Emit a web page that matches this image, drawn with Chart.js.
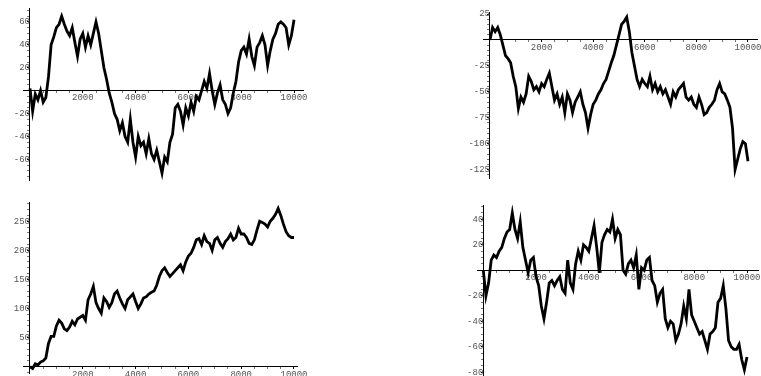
<!DOCTYPE html>
<html><head><meta charset="utf-8">
<script src="https://cdn.jsdelivr.net/npm/chart.js@4/dist/chart.umd.min.js"></script>
<style>
html,body{margin:0;padding:0;background:#fff;width:761px;height:376px;overflow:hidden}
canvas{position:absolute;left:0;top:0}
</style></head><body>
<canvas id="c1" width="761" height="376"></canvas>
<canvas id="c2" width="761" height="376"></canvas>
<canvas id="c3" width="761" height="376"></canvas>
<canvas id="c4" width="761" height="376"></canvas>
<script>
// sample positions (every 100 steps of the walk)
const steps = Array.from({length: 101}, (_, i) => i * 100);

// top-left walk
const walkA = [2,-18,-3,-8,0,-10,-6,12,40,47,55,58,65,58,52,48,55,42,30,45,50,38,48,40,50,60,50,35,20,10,-2,-10,-20,-25,-35,-28,-40,-45,-25,-45,-58,-40,-48,-45,-55,-42,-55,-60,-52,-62,-72,-58,-62,-45,-38,-15,-12,-18,-30,-15,-22,-10,-18,-5,-8,0,8,2,15,0,-12,-2,5,-8,-12,-20,-15,-2,8,25,35,38,32,45,30,22,38,42,48,40,22,35,45,50,58,60,58,55,40,48,62];
// top-right walk
const walkB = [0,12,8,12,5,-5,-15,-18,-22,-35,-45,-66,-55,-60,-52,-35,-40,-48,-45,-50,-42,-45,-38,-32,-45,-58,-52,-62,-55,-70,-52,-58,-70,-60,-55,-50,-62,-70,-85,-72,-62,-58,-52,-48,-42,-38,-30,-22,-15,-5,5,15,18,22,8,-12,-25,-38,-45,-38,-42,-45,-35,-48,-42,-50,-45,-52,-48,-55,-62,-50,-55,-48,-45,-42,-55,-58,-55,-62,-65,-55,-62,-72,-70,-65,-62,-58,-48,-42,-50,-52,-58,-65,-85,-125,-115,-105,-98,-100,-117];
// bottom-left walk
const walkC = [0,-3,5,3,8,10,15,40,52,52,70,80,75,65,62,68,78,72,82,85,88,80,115,125,138,110,100,92,118,112,102,110,125,130,118,108,100,115,120,125,112,100,108,118,120,125,128,130,140,155,165,170,162,155,160,165,170,175,165,180,190,195,205,218,220,210,225,215,212,200,218,222,212,205,215,220,228,218,222,238,228,228,222,212,210,218,235,250,248,245,240,250,255,262,272,260,245,232,225,222,222];
// bottom-right walk
const walkD = [0,-20,-10,8,12,10,15,18,25,30,32,45,32,25,38,18,8,-2,8,10,-5,-12,-28,-38,-25,-10,-8,-12,-8,-5,-15,-18,8,-10,-15,5,15,8,20,18,15,25,35,18,-2,22,28,32,30,40,25,32,28,0,-3,5,8,2,12,-15,2,0,8,10,-8,-12,-25,-18,-15,-38,-45,-40,-42,-55,-50,-42,-28,-38,-15,-35,-40,-45,-50,-48,-55,-62,-50,-48,-45,-25,-22,-12,-30,-55,-60,-62,-62,-58,-70,-78,-68,-35];

// x ticks: minor every 500, labels at 2000s
const xTicks = Array.from({length: 21}, (_, i) => i * 500);
const xTickLabels = [2000, 4000, 6000, 8000, 10000];
// y tick labels per panel
const yLabelsA = [-60, -40, -20, 20, 40, 60];
const yLabelsB = [-125, -100, -75, -50, -25, 25];
const yLabelsC = [50, 100, 150, 200, 250];
const yLabelsD = [-80, -60, -40, -20, 20, 40];

const W = 761, H = 376;
const FONT = {family: "'Liberation Mono', 'DejaVu Sans Mono', monospace", size: 9};

function zeroFit(s) {
  if (s.isHorizontal()) { s.height = 0; } else { s.width = 0; }
  s.paddingLeft = 0; s.paddingRight = 0; s.paddingTop = 0; s.paddingBottom = 0;
}

function makeChart(id, values, area, xr, yr, yStep, yMajor, yLabels) {
  new Chart(document.getElementById(id), {
    type: 'line',
    data: {
      datasets: [{
        data: steps.map((s, i) => ({x: s, y: values[i]})),
        borderColor: '#000', borderWidth: 2.8, pointRadius: 0, tension: 0, fill: false,
        borderJoinStyle: 'miter'
      }]
    },
    options: {
      responsive: false, animation: false, devicePixelRatio: 1, events: [],
      layout: {padding: {left: area[0], top: area[1], right: W - area[2], bottom: H - area[3]}},
      plugins: {legend: {display: false}, tooltip: {enabled: false}},
      scales: {
        x: {
          type: 'linear', min: xr[0], max: xr[1], position: {y: 0},
          afterFit: zeroFit,
          afterBuildTicks: s => { s.ticks = xTicks.filter(v => v >= xr[0] && v <= xr[1]).map(v => ({value: v})); },
          grid: {display: true, drawOnChartArea: false, drawTicks: true, tickLength: 2,
                 color: '#000', tickColor: c => (c.tick && c.tick.value % 2000 === 0) ? '#000' : '#777'},
          border: {display: true, color: '#000', width: 1},
          ticks: {autoSkip: false, maxRotation: 0, minRotation: 0,
                  padding: 0, color: '#555', font: FONT,
                  callback: v => xTickLabels.includes(v) ? String(v) : ''}
        },
        y: {
          type: 'linear', min: yr[0], max: yr[1], position: {x: 0},
          afterFit: zeroFit,
          grid: {display: true, drawOnChartArea: false, drawTicks: true, tickLength: 2,
                 color: '#000', tickColor: c => (c.tick && c.tick.value % yMajor === 0) ? '#000' : '#777'},
          border: {display: true, color: '#000', width: 1},
          ticks: {stepSize: yStep, autoSkip: false, includeBounds: false,
                  padding: 1, color: '#555', font: FONT,
                  callback: v => yLabels.includes(v) ? String(v) : ''}
        }
      }
    }
  });
}

makeChart('c1', walkA, [23, 8, 303, 180], [-265, 10340], [-78, 72.2], 5, 20, yLabelsA);
makeChart('c2', walkB, [483, 12, 757, 178], [-271, 10349], [-133.1, 27], 5, 25, yLabelsB);
makeChart('c3', walkC, [23, 202, 297, 373], [-265, 10114], [-10.8, 283], 10, 50, yLabelsC);
makeChart('c4', walkD, [477, 205, 758, 376], [-239, 10417], [-82.9, 51.2], 5, 20, yLabelsD);
</script>
</body></html>
